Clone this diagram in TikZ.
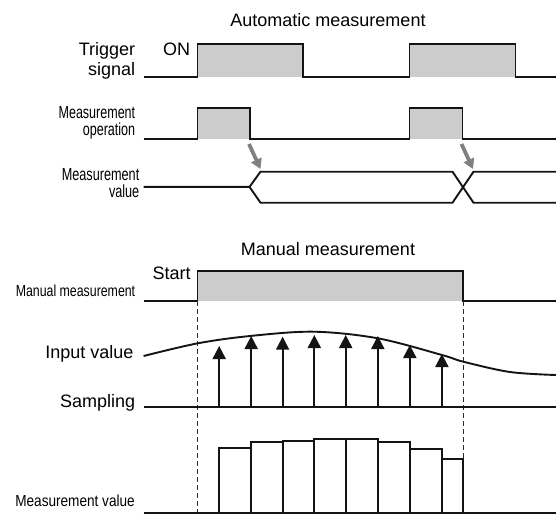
\documentclass[tikz,border=0pt]{standalone}
\usepackage{graphicx}
\usepackage{fontspec}
\setmainfont{Liberation Sans}
\usetikzlibrary{arrows.meta}
\definecolor{boxgray}{RGB}{204,204,204}
\definecolor{arrowgray}{RGB}{128,128,128}
\definecolor{linecol}{RGB}{20,20,20}
\begin{document}
\begin{tikzpicture}[x=1pt,y=-1pt,
  wave/.style={line width=1.9pt, draw=linecol, line join=miter},
  big/.style={font=\fontsize{18}{20}\selectfont, inner sep=0pt},
  condsm/.style={font=\fontsize{16}{18}\selectfont, inner sep=0pt, anchor=base east},
  dashline/.style={line width=1pt, draw=linecol!90, dash pattern=on 5pt off 3pt},
  garrow/.style={line width=3.8pt, draw=arrowgray, -{Triangle[width=11pt,length=10pt]}},
  sarrow/.style={line width=2pt, draw=linecol, -{Triangle[width=13pt,length=13pt]}},
  bar/.style={line width=1.9pt, draw=linecol, fill=white}]
\useasboundingbox (0,0) rectangle (556,514);

% ---------- Automatic measurement ----------
\node[big, anchor=base] (tauto) at (328,26) {Automatic measurement};
\node[big, anchor=base east] (trig) at (135.4,55) {Trigger};
\node[big, anchor=base east] (sig) at (135.4,75) {signal};
\node[big, anchor=base west] (on) at (163,55) {ON};

% trigger signal
\fill[boxgray] (197.5,44) rectangle (303,76.7);
\fill[boxgray] (409.5,44) rectangle (515.5,76.7);
\draw[wave] (143.6,76.7) -- (197.5,76.7) -- (197.5,44) -- (303,44) -- (303,76.7)
  -- (409.5,76.7) -- (409.5,44) -- (515.5,44) -- (515.5,76.7) -- (556,76.7);

% measurement operation
\node[inner sep=0pt, anchor=base east, font=\fontsize{17.5}{15.2}\selectfont] (mop) at (135.4,135.5)
  {\begin{tabular}[b]{@{}r@{}}\resizebox{76.6pt}{\height}{Measurement}\\ \resizebox{52.4pt}{\height}{operation}\end{tabular}};
\fill[boxgray] (197.5,107.7) rectangle (250,139.3);
\fill[boxgray] (409.5,107.7) rectangle (462.5,139.3);
\draw[wave] (143.6,139.3) -- (197.5,139.3) -- (197.5,107.7) -- (250,107.7) -- (250,139.3)
  -- (409.5,139.3) -- (409.5,107.7) -- (462.5,107.7) -- (462.5,139.3) -- (556,139.3);

% gray arrows
\coordinate (g1s) at (249,144);
\coordinate (g1e) at (260.5,169);
\coordinate (g2s) at (461.5,144);
\coordinate (g2e) at (473,169);
\draw[garrow] (g1s) -- (g1e);
\draw[garrow] (g2s) -- (g2e);

% measurement value
\node[inner sep=0pt, anchor=base east, font=\fontsize{17.5}{14}\selectfont] (mv) at (139.5,197)
  {\begin{tabular}[b]{@{}r@{}}\resizebox{77.5pt}{\height}{Measurement}\\ \resizebox{30.3pt}{\height}{value}\end{tabular}};
\draw[wave] (143.6,186.9) -- (249.5,186.9) -- (260.5,171.7) -- (452.5,171.7) -- (473.5,202.7) -- (556,202.7);
\draw[wave] (249.5,186.9) -- (260.5,202.7) -- (452.5,202.7) -- (473.5,171.7) -- (556,171.7);

% ---------- Manual measurement ----------
\node[big, anchor=base] (tman) at (328,255) {Manual measurement};
\node[big, anchor=base west] (start) at (152.5,279) {Start};
\node[condsm] (mm) at (135.4,296) {\resizebox{119.4pt}{\height}{Manual measurement}};
\fill[boxgray] (197.5,270.7) rectangle (463,301);
\draw[wave] (143.6,301) -- (197.5,301) -- (197.5,270.7) -- (463,270.7) -- (463,301) -- (556,301);

% dashed guides
\draw[dashline] (197.5,301) -- (197.5,514);
\draw[dashline] (463,301) -- (463,514);

% input value
\node[big, anchor=base east] (inp) at (133.6,358.3) {Input value};
\draw[line width=1.9pt, draw=linecol] plot[smooth, tension=0.55] coordinates
  {(143.6,356) (197.8,343.3) (250,336) (313.6,331.7) (377.8,338.3) (442,355) (463.3,361.7) (510,372) (556,375)};

% sampling
\node[big, anchor=base east] (samp) at (135.4,407) {Sampling};
\draw[wave] (143.6,407.3) -- (556,407.3);
\foreach \x/\t in {219.2/346, 251.2/336, 282.6/336.7, 314.3/335, 345.7/335, 377.8/336, 409.8/345, 441.9/354}
  \draw[sarrow] (\x,407.3) -- (\x,\t);

% measurement value bars
\node[condsm] (mvb) at (135,506.7) {\resizebox{119.5pt}{\height}{Measurement value}};
\foreach \xa/\xb/\t in {219.2/251.2/447.7, 251.2/282.6/441.7, 282.6/314.3/440.7, 314.3/345.7/439.3,
  345.7/377.8/439.3, 377.8/409.8/441.7, 409.8/441.9/449.3, 441.9/463/459}
  \draw[bar] (\xa,513.3) rectangle (\xb,\t);
\draw[wave] (143.6,513.3) -- (556,513.3);
\end{tikzpicture}
\end{document}
